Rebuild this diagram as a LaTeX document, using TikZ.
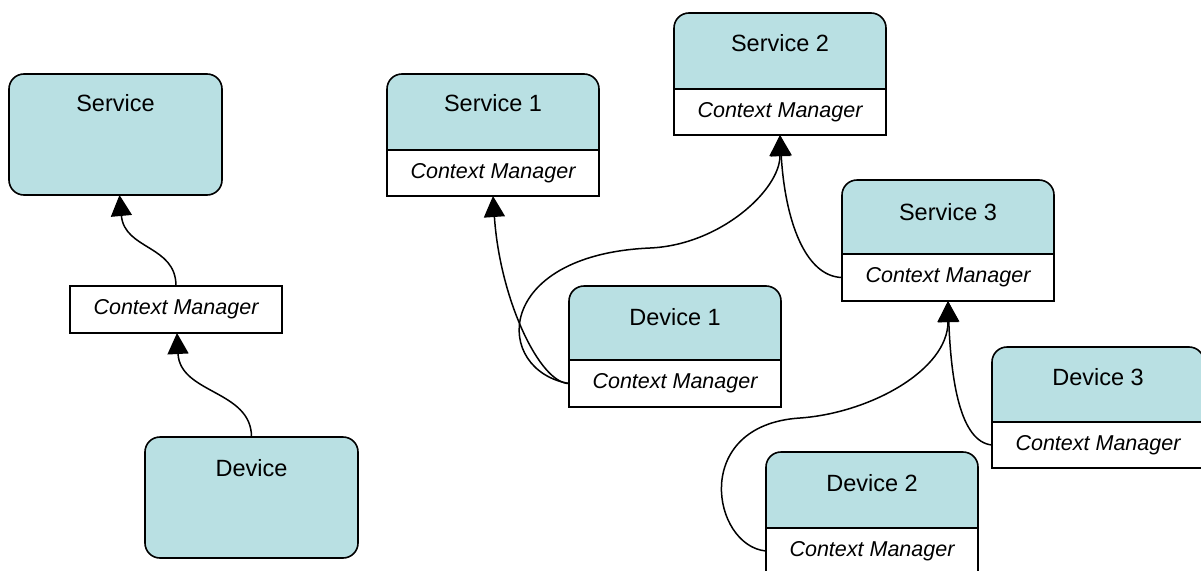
\documentclass[tikz,border=0pt]{standalone}
\usepackage{fontspec}
\setmainfont{Liberation Sans}
\usetikzlibrary{arrows.meta,calc}
\definecolor{boxteal}{RGB}{185,224,227}
\begin{document}
\begin{tikzpicture}[x=1pt,y=-1pt,
  topbox/.style={draw=black,line width=1.6pt,fill=boxteal,rounded corners=15pt,minimum width=212pt,anchor=north west,inner sep=0pt,outer sep=0pt},
  cmbox/.style={draw=black,line width=1.6pt,fill=white,minimum width=212pt,minimum height=46pt,anchor=north west,inner sep=0pt,outer sep=0pt,font=\fontsize{21.5}{24}\selectfont\itshape},
  ttl/.style={font=\fontsize{23.5}{26}\selectfont,inner sep=0pt},
  conn/.style={line width=1.5pt,-{Triangle[length=21pt,width=21pt]}}]
\clip (0,0) rectangle (1201,570);
\fill[white] (0,0) rectangle (1201,570);

% left diagram
\node[topbox,minimum width=213pt,minimum height=121pt] (svc) at (9,74) {};
\node[ttl] (svct) at ($(svc.north)+(0,29)$) {Service};
\node[cmbox,minimum height=47pt] (cm0) at (70,286) {Context Manager};
\node[topbox,minimum width=213pt,minimum height=121pt] (dev) at (145,437) {};
\node[ttl] (devt) at ($(dev.north)+(0,31)$) {Device};

% right diagram
\node[topbox,minimum height=96pt] (s1) at (387,74) {};
\node[cmbox] (s1cm) at (387,150) {Context Manager};
\node[ttl] (s1t) at ($(s1.north)+(0,29)$) {Service 1};

\node[topbox,minimum height=96pt] (s2) at (674,13) {};
\node[cmbox] (s2cm) at (674,89) {Context Manager};
\node[ttl] (s2t) at ($(s2.north)+(0,30)$) {Service 2};

\node[topbox,minimum height=94pt] (s3) at (842,180) {};
\node[cmbox,minimum height=47pt] (s3cm) at (842,254) {Context Manager};
\node[ttl] (s3t) at ($(s3.north)+(0,32)$) {Service 3};

\node[topbox,minimum height=94pt] (d1) at (569,286) {};
\node[cmbox,minimum height=47pt] (d1cm) at (569,360) {Context Manager};
\node[ttl] (d1t) at ($(d1.north)+(0,31)$) {Device 1};

\node[topbox,minimum height=96pt] (d2) at (766,452) {};
\node[cmbox,minimum height=46pt] (d2cm) at (766,528) {Context Manager};
\node[ttl] (d2t) at ($(d2.north)+(0,31)$) {Device 2};

\node[topbox,minimum height=95pt] (d3) at (992,347) {};
\node[cmbox,minimum height=46pt] (d3cm) at (992,422) {Context Manager};
\node[ttl] (d3t) at ($(d3.north)+(0,30)$) {Device 3};

% connectors
\draw[conn] (cm0.north) .. controls +(0,-41) and +(5,55) .. ([xshift=4pt]svc.south);
\draw[conn] (dev.north) .. controls +(0,-47) and +(3,61) .. ([xshift=1pt]cm0.south);

\draw[conn] (d1cm.west) .. controls +(-29,0) and +(7,104) .. (s1cm.south);
\draw[conn] (d1cm.west) .. controls +(-76,-13) and (492,255) .. (650,248)
  .. controls (720,245) and +(0,55) .. (s2cm.south);
\draw[conn] (s3cm.west) .. controls +(-37,-1) and +(5,85) .. (s2cm.south);
\draw[conn] (d2cm.west) .. controls +(-54,-5) and (690,425) .. (800,418)
  .. controls (870,413) and +(0,69) .. (s3cm.south);
\draw[conn] (d3cm.west) .. controls +(-32,-3) and +(3,79) .. (s3cm.south);
\end{tikzpicture}
\end{document}
